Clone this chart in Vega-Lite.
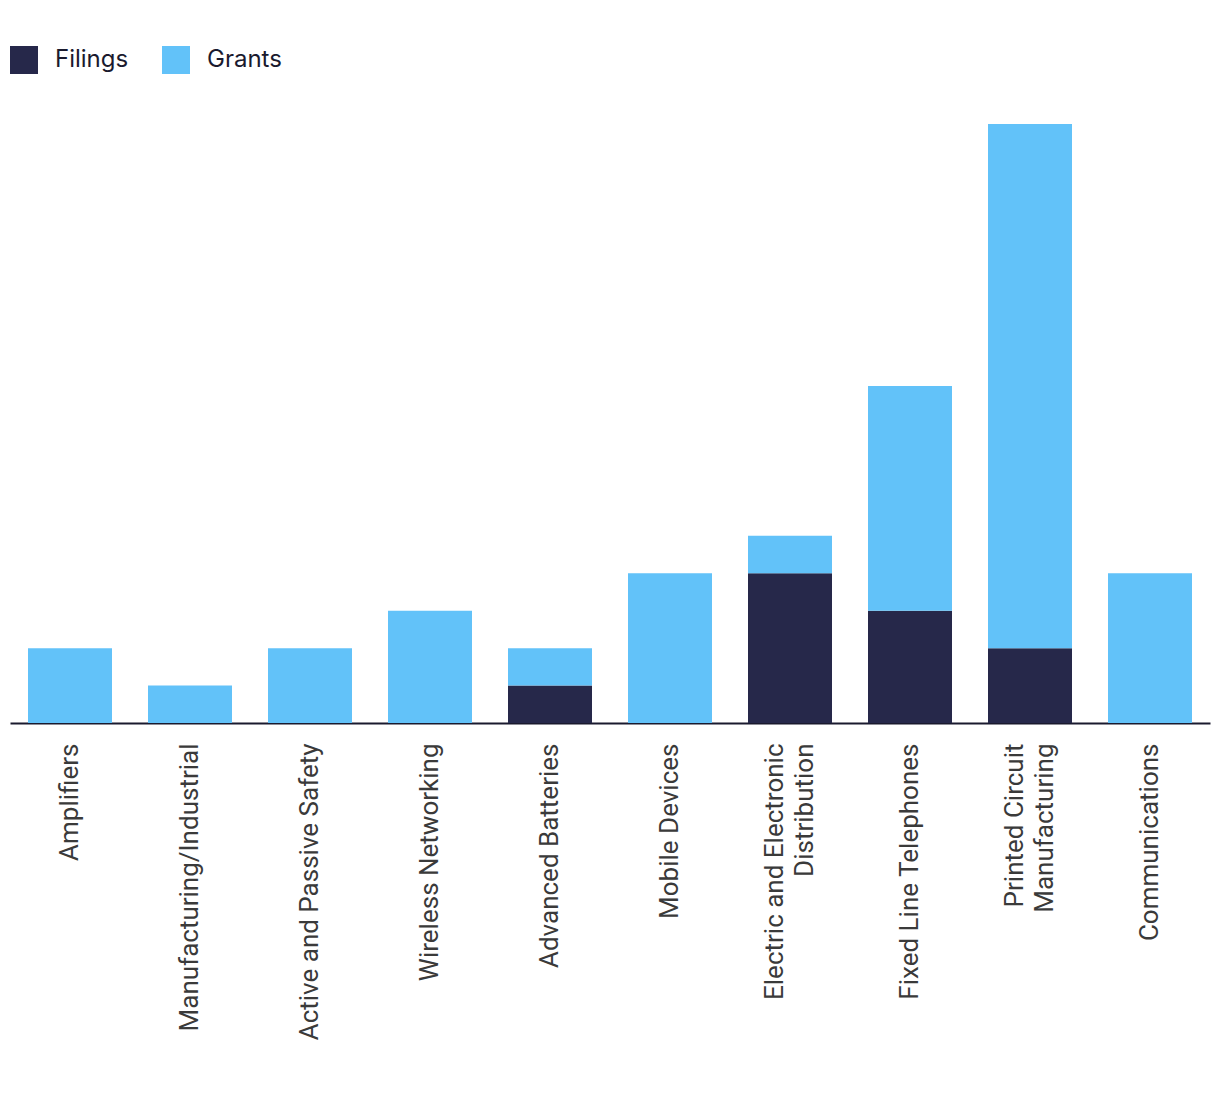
{
  "$schema": "https://vega.github.io/schema/vega-lite/v6.json",
  "width": 1200,
  "height": 599,
  "padding": {"left": 10, "top": 46, "right": 10, "bottom": 10},
  "background": "white",
  "config": {"view": {"stroke": null}},
  "data": {
    "values": [
      {"category": "Amplifiers", "type": "Filings", "value": 0},
      {"category": "Amplifiers", "type": "Grants", "value": 2},
      {"category": "Manufacturing/Industrial", "type": "Filings", "value": 0},
      {"category": "Manufacturing/Industrial", "type": "Grants", "value": 1},
      {"category": "Active and Passive Safety", "type": "Filings", "value": 0},
      {"category": "Active and Passive Safety", "type": "Grants", "value": 2},
      {"category": "Wireless Networking", "type": "Filings", "value": 0},
      {"category": "Wireless Networking", "type": "Grants", "value": 3},
      {"category": "Advanced Batteries", "type": "Filings", "value": 1},
      {"category": "Advanced Batteries", "type": "Grants", "value": 1},
      {"category": "Mobile Devices", "type": "Filings", "value": 0},
      {"category": "Mobile Devices", "type": "Grants", "value": 4},
      {"category": "Electric and Electronic|Distribution", "type": "Filings", "value": 4},
      {"category": "Electric and Electronic|Distribution", "type": "Grants", "value": 1},
      {"category": "Fixed Line Telephones", "type": "Filings", "value": 3},
      {"category": "Fixed Line Telephones", "type": "Grants", "value": 6},
      {"category": "Printed Circuit|Manufacturing", "type": "Filings", "value": 2},
      {"category": "Printed Circuit|Manufacturing", "type": "Grants", "value": 14},
      {"category": "Communications", "type": "Filings", "value": 0},
      {"category": "Communications", "type": "Grants", "value": 4}
    ]
  },
  "mark": {"type": "bar"},
  "encoding": {
    "x": {
      "field": "category",
      "type": "nominal",
      "sort": null,
      "scale": {"paddingInner": 0.3, "paddingOuter": 0.15},
      "axis": {
        "title": null,
        "labelAngle": -90,
        "labelAlign": "right",
        "labelBaseline": "middle",
        "labelExpr": "split(datum.label, '|')",
        "labelFont": "Roboto",
        "labelFontSize": 26,
        "labelColor": "#3a3a3a",
        "labelLineHeight": 30,
        "labelLimit": 400,
        "labelPadding": 20,
        "labelOffset": {"condition": {"test": "indexof(datum.value, '|') >= 0", "value": -15}, "value": 0},
        "ticks": false,
        "domainColor": "#1a1a2e",
        "domainWidth": 2
      }
    },
    "y": {
      "field": "value",
      "type": "quantitative",
      "stack": "zero",
      "scale": {"domain": [0, 16], "nice": false},
      "axis": null
    },
    "color": {
      "field": "type",
      "type": "nominal",
      "scale": {"domain": ["Filings", "Grants"], "range": ["#26284a", "#62c2f9"]},
      "legend": {
        "title": null,
        "orient": "top",
        "direction": "horizontal",
        "symbolType": "square",
        "symbolSize": 784,
        "symbolStrokeWidth": 0,
        "symbolOpacity": 1,
        "labelFont": "Inter",
        "labelFontSize": 24,
        "labelColor": "#1a1a2e",
        "labelOffset": 17,
        "columnPadding": 33,
        "offset": 50
      }
    },
    "order": {"field": "type", "sort": "ascending"}
  }
}
